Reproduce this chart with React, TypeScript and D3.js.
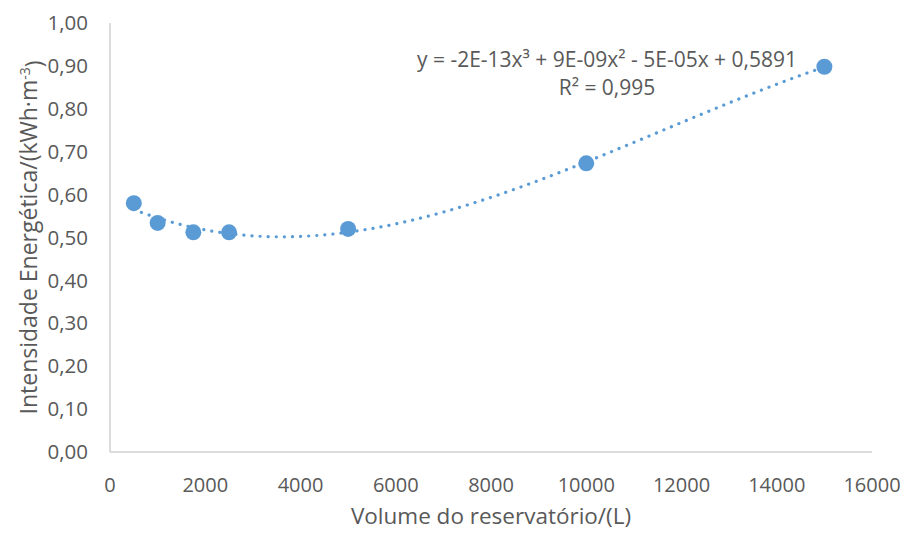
import * as d3 from 'd3'

// reservoir volume (L) and energy intensity (kWh/m3)
const volumes = [500, 1000, 1750, 2500, 5000, 10000, 15000]
const intensities = [0.58, 0.534, 0.512, 0.512, 0.52, 0.673, 0.898]
const xTicks = [0, 2000, 4000, 6000, 8000, 10000, 12000, 14000, 16000]
const yTicks = [0, 0.1, 0.2, 0.3, 0.4, 0.5, 0.6, 0.7, 0.8, 0.9, 1.0]
const equationText = 'y = -2E-13x³ + 9E-09x² - 5E-05x + 0,5891'
const r2Text = 'R² = 0,995'

const W = 904
const H = 534
const margin = { left: 110, right: 32, top: 23, bottom: 82 }
const font = '"Open Sans", sans-serif'
const textColor = '#595959'
const blue = '#5B9BD5'

// least squares cubic fit of the points (x scaled to thousands)
function cubicFit(xs: number[], ys: number[]) {
  const n = 4
  const A: number[][] = Array.from({ length: n }, () => new Array(n + 1).fill(0))
  xs.forEach((xv, k) => {
    const x = xv / 1000
    for (let i = 0; i < n; i++) {
      for (let j = 0; j < n; j++) A[i][j] += Math.pow(x, i + j)
      A[i][n] += Math.pow(x, i) * ys[k]
    }
  })
  for (let c = 0; c < n; c++) {
    let p = c
    for (let r = c + 1; r < n; r++) if (Math.abs(A[r][c]) > Math.abs(A[p][c])) p = r
    ;[A[c], A[p]] = [A[p], A[c]]
    for (let r = 0; r < n; r++) {
      if (r === c) continue
      const f = A[r][c] / A[c][c]
      for (let j = c; j <= n; j++) A[r][j] -= f * A[c][j]
    }
  }
  const coef = A.map((row, i) => row[n] / row[i])
  return (xv: number) => {
    const x = xv / 1000
    return coef[0] + coef[1] * x + coef[2] * x * x + coef[3] * x * x * x
  }
}

export default function App() {
  const x = d3.scaleLinear().domain([0, 16000]).range([margin.left, W - margin.right])
  const y = d3.scaleLinear().domain([0, 1]).range([H - margin.bottom, margin.top])
  const fit = cubicFit(volumes, intensities)
  const xs = d3.range(volumes[0], volumes[volumes.length - 1] + 1, 50)
  const trend = d3.line<number>().x(d => x(d)).y(d => y(fit(d)))(xs) || ''
  const fmt = (v: number) => v.toFixed(2).replace('.', ',')
  const y0 = y(0)
  const plotMidY = (y(0) + y(1)) / 2

  return (
    <svg width={W} height={H} style={{ position: 'absolute', left: 0, top: 0, background: '#fff' }}>
      <rect width={W} height={H} fill="#fff" />
      {/* axis lines */}
      <line x1={x(0)} x2={x(16000)} y1={y0} y2={y0} stroke="#D0D0D0" strokeWidth={1.5} />
      <line x1={x(0)} x2={x(0)} y1={y(0)} y2={y(1)} stroke="#D0D0D0" strokeWidth={1.5} />

      {yTicks.map(t => (
        <text key={t} x={88} y={y(t)} dy="0.35em" textAnchor="end" fontFamily={font} fontSize={20.5} fill={textColor}>
          {fmt(t)}
        </text>
      ))}
      {xTicks.map(t => (
        <text key={t} x={x(t)} y={y0 + 33} dy="0.35em" textAnchor="middle" fontFamily={font} fontSize={20} fill={textColor}>
          {t}
        </text>
      ))}

      <text x={x(8000)} y={516} dy="0.35em" textAnchor="middle" fontFamily={font} fontSize={22.5} fill={textColor}>
        Volume do reservatório/(L)
      </text>
      <text transform={`translate(29,${plotMidY}) rotate(-90)`} dy="0.35em" textAnchor="middle" fontFamily={font} fontSize={23} fill={textColor}>
        Intensidade Energética/(kWh·m<tspan dy="-0.5em" fontSize={14}>-3</tspan><tspan dy="0.5em">)</tspan>
      </text>

      <path d={trend} fill="none" stroke={blue} strokeWidth={3.2} strokeDasharray="0.1 8" strokeLinecap="round" />

      {volumes.map((v, i) => (
        <circle key={v} cx={x(v)} cy={y(intensities[i])} r={8} fill={blue} />
      ))}

      <text x={607} y={60} dy="0.35em" textAnchor="middle" fontFamily={font} fontSize={21} fill={textColor}>
        {equationText}
      </text>
      <text x={607} y={88} dy="0.35em" textAnchor="middle" fontFamily={font} fontSize={21} fill={textColor}>
        {r2Text}
      </text>
    </svg>
  )
}
